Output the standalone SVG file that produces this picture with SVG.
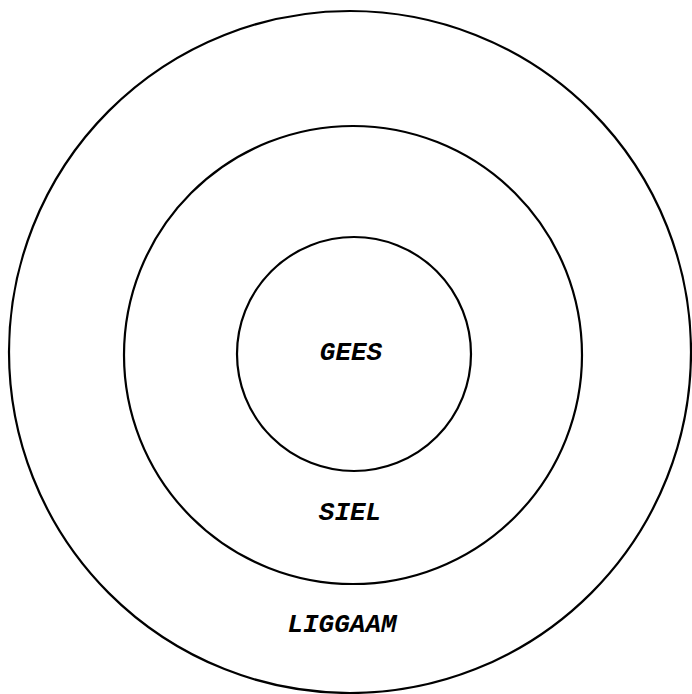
<svg xmlns="http://www.w3.org/2000/svg" width="692" height="694" viewBox="0 0 692 694">
<style>
.ring{fill:none;stroke:#000;stroke-width:2.2}
.lbl{font-family:"Liberation Mono","DejaVu Sans Mono",monospace;font-style:italic;font-weight:bold;font-size:26px;fill:#000;text-anchor:middle}
</style>
<rect width="692" height="694" fill="#fff"/>
<g id="liggaam">
<circle class="ring" cx="350" cy="352" r="341"/>
<text class="lbl" x="342" y="632">LIGGAAM</text>
</g>
<g id="siel">
<circle class="ring" cx="353" cy="355" r="229"/>
<text class="lbl" x="350" y="520">SIEL</text>
</g>
<g id="gees">
<circle class="ring" cx="354" cy="354" r="117"/>
<text class="lbl" x="351" y="360">GEES</text>
</g>
<g id="connectors"></g>
</svg>
